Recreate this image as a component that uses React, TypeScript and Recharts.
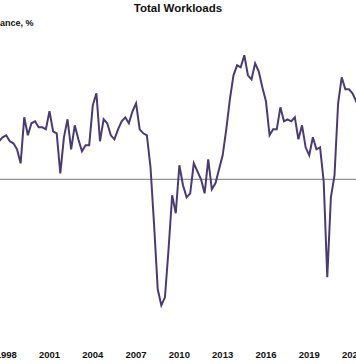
import { Line, LineChart, ReferenceLine, XAxis, YAxis } from "recharts";

// quarterly balance, % — 1997 Q3 to 2022 Q3
const startYear = 1997.5;
const balance = [
  19, 21, 22, 19, 18, 15, 8, 31, 22, 28, 29, 26, 26, 25, 34, 24, 23, 3, 21, 30,
  15, 27, 20, 14, 17, 17, 37, 43, 19, 30, 28, 22, 20, 25, 29, 31, 28, 34, 38, 25,
  23, 22, 6, -23, -55, -63, -59, -35, -8, -17, 7, -3, -9, -7, 8, 4, 0, -7, 10, -5,
  -2, 5, 12, 25, 40, 52, 57, 56, 62, 52, 50, 58, 54, 46, 39, 22, 25, 25, 36, 29,
  30, 29, 31, 20, 27, 16, 12, 21, 15, 16, -1, -49, -9, 2, 38, 51, 45, 45, 43, 39,
  35
];
const yearTicks = [1998, 2001, 2004, 2007, 2010, 2013, 2016, 2019, 2022];

const data = balance.map((value, i) => ({ t: startYear + i / 4, value }));

const font = "'Liberation Sans', Arial, sans-serif";

export default function App() {
  return (
    <div
      style={{
        position: "absolute",
        left: 0,
        top: 0,
        width: 356,
        height: 364,
        overflow: "hidden",
        background: "#fff",
        fontFamily: font
      }}
    >
      <div
        style={{
          position: "absolute",
          top: 2,
          left: 0,
          width: 356,
          textAlign: "center",
          fontSize: 11.5,
          fontWeight: 700,
          color: "#111"
        }}
      >
        Total Workloads
      </div>
      <div
        style={{
          position: "absolute",
          top: 18,
          left: -14,
          fontSize: 9,
          fontWeight: 700,
          color: "#111",
          whiteSpace: "nowrap"
        }}
      >
        Balance, %
      </div>
      <LineChart
        width={356}
        height={364}
        data={data}
        margin={{ top: 39.3, right: 0, left: 0, bottom: 0 }}
      >
        <XAxis
          dataKey="t"
          type="number"
          domain={[1997.57, 2022.24]}
          allowDataOverflow
          ticks={yearTicks}
          interval={0}
          tickLine={false}
          axisLine={false}
          tickMargin={16}
          height={34.7}
          tick={{ fill: "#111", fontSize: 9.5, fontWeight: 700, fontFamily: font }}
        />
        <YAxis hide domain={[-75, 70]} allowDataOverflow />
        <ReferenceLine y={0} stroke="#7a7a7a" strokeWidth={1} />
        <Line
          type="linear"
          dataKey="value"
          stroke="#4b3b73"
          strokeWidth={2}
          dot={false}
          isAnimationActive={false}
        />
      </LineChart>
    </div>
  );
}
